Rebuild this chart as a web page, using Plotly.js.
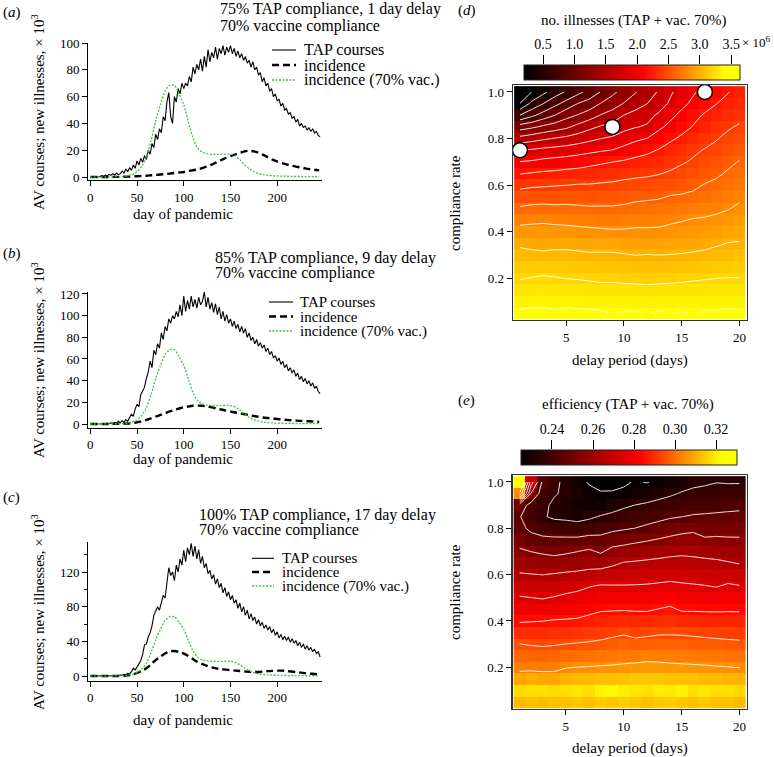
<!DOCTYPE html>
<html><head><meta charset="utf-8">
<script src="https://cdn.plot.ly/plotly-3.0.1.min.js"></script>
<style>html,body{margin:0;padding:0;background:#fff}#chart{width:774px;height:757px}</style>
</head><body><div id="chart"></div>
<script>
// ---------------- DATA ----------------
const tapStep = 2;                 // TAP courses sampled every 2 days from day 0
const incStep = 5;                 // incidence curves sampled every 5 days from day 0
const tapA = [0,0,0.3,0,0.5,0.2, 1,0.5,1.5,0.8,2,1.2, 2.5,1.5,3,1.8,2.5,4.5, 3,6,4,7,5,9,
  6.5,12,9,14,11,16, 13,20,17,25,22,32, 28,36,33,45,42,56, 63,45,40,60,56,66, 62,70,66,70,68,75,
  71,82,77,84,80,88, 79,90,82,95,86,93, 89,97,88,96,92,98, 91,97,93,98,92,96, 90,94,89,92,87,90,
  85,87,82,86,80,82, 76,78,71,74,68,70, 64,66,60,62,57,58, 53,55,50,51,47,48, 44,45,41,43,38,40,
  37,38,35,37,34,36, 33,34,31,30];
const tapB = [0,0,0,0.3,0,0.2, 0,0.5,0.2,0.8,0.3,1, 0.5,1.5,0.8,2.5,1,3, 1.5,4,2.5,6,9,7,
  14,18,16,27,30,34, 42,48,58,52,68,64, 74,70,84,78,90,86, 97,93,100,97,104,99, 110,100,118,104,114,106,
  118,108,115,107,117,110, 113,122,108,117,106,112, 103,111,101,108,97,104, 95,101,93,97,90,95,
  88,92,85,90,84,88, 80,84,77,80,74,78, 72,75,70,73,67,70, 64,67,61,63,58,61, 55,58,52,55,49,52,
  47,50,44,47,41,44, 39,42,37,40,35,38, 33,35,30,28];
const tapC = [0,0,0,0,0.3,0, 0.2,0,0.4,0.1,0.5,0.2, 0.6,0.3,0.8,0.5,1.2,0.8, 2,1.5,3,2.5,5,9,
  7,10,14,18,25,36, 37,45,50,58,70,75, 80,76,84,93,90,110, 125,116,120,110,128,120, 135,128,145,132,148,140,
  153,138,150,135,146,130, 138,125,130,118,122,112, 117,106,112,102,107,96, 102,92,97,88,93,84,
  88,78,84,74,80,70, 76,66,72,64,68,60, 65,58,62,55,59,53, 57,50,54,47,51,44, 48,42,46,41,45,39,
  43,38,41,35,39,33, 37,31,35,30,33,28, 31,26,28,22];
const incA = [0,0,0,0,0,0.1,0.1,0.2,0.3,0.4, 0.6,0.8,1.0,1.3,1.6,1.9,2.2,2.6,3.0,3.4,
  3.8,4.4,5.1,5.8,6.7,7.9,9.3,11,12.6,14.2, 15.6,16.8,18,19.1,19.6,19.2,18.2,16.6,14.8,13,
  11.6,10.4,9.4,8.5,7.8,7.2,6.5,5.9,5.4,5.0];
const incB = [0,0,0,0,0,0.1,0.2,0.3,0.5,0.9, 1.5,2.5,3.8,5.3,6.8,8.4,10,11.6,13,14.3,
  15.4,16.2,16.8,17,16.8,16.2,15.3,14.4,13.4,12.4, 11.5,10.6,9.8,9.0,8.2,7.4,6.7,6.0,5.5,5.0,
  4.6,4.2,3.8,3.5,3.2,2.9,2.7,2.5,2.2,2.0];
const incC = [0,0,0,0,0,0,0.1,0.3,0.7,1.7, 3.5,5.8,9,13.5,18.5,22.5,26,28.3,28.8,27.8,
  25.8,23,19.5,16.2,13.8,11.8,10,8.8,8,7.4, 6.9,6.3,5.8,5.3,4.9,4.6,4.7,5.2,5.7,6.0,
  6.2,6.2,5.8,5.2,4.6,3.9,3.3,2.8,2.4,2.1];
const incVac = [0,0,0,0,0.1,0.1,0.2,0.4,0.9,2, 4,8,15,27,42,54,64,68.5,68.5,62,
  54,41,29,21.5,18.5,17.5,17,16.9,17,17.1, 17,15.8,13,9.3,6.2,4,2.6,1.8,1.3,1,
  0.8,0.7,0.6,0.5,0.45,0.4,0.35,0.3,0.3,0.3];

const delays = [1,2,3,4,5,6,7,8,9,10,11,12,13,14,15,16,17,18,19,20];
const compliance = [0.05,0.10,0.15,0.20,0.25,0.30,0.35,0.40,0.45,0.50,0.55,0.60,0.65,0.70,0.75,0.80,0.85,0.90,0.95,1.00];

// no. illnesses (x10^6), rows = compliance 0.05 .. 1.00, cols = delay 1..20
const illnesses = [
 [3.43,3.44,3.44,3.43,3.44,3.43,3.43,3.42,3.39,3.41,3.41,3.39,3.42,3.39,3.41,3.39,3.42,3.42,3.43,3.42],
 [3.34,3.35,3.35,3.35,3.35,3.35,3.34,3.34,3.34,3.34,3.33,3.33,3.34,3.33,3.34,3.34,3.34,3.34,3.34,3.34],
 [3.26,3.27,3.28,3.27,3.27,3.27,3.26,3.25,3.25,3.25,3.24,3.24,3.24,3.25,3.25,3.26,3.26,3.27,3.27,3.27],
 [3.19,3.204,3.22,3.21,3.196,3.19,3.18,3.17,3.17,3.16,3.16,3.15,3.16,3.16,3.17,3.18,3.19,3.198,3.203,3.201],
 [3.12,3.12,3.13,3.12,3.12,3.11,3.11,3.10,3.10,3.09,3.08,3.08,3.08,3.08,3.09,3.10,3.11,3.12,3.13,3.14],
 [3.05,3.04,3.03,3.04,3.04,3.03,3.02,3.02,3.02,3.01,2.996,3.004,2.998,3.002,3.01,3.02,3.03,3.05,3.06,3.08],
 [2.97,2.95,2.94,2.95,2.95,2.94,2.93,2.93,2.93,2.92,2.91,2.91,2.92,2.93,2.93,2.94,2.96,2.98,3.003,3.01],
 [2.86,2.87,2.87,2.86,2.86,2.85,2.84,2.83,2.82,2.82,2.83,2.83,2.83,2.85,2.86,2.87,2.89,2.91,2.93,2.95],
 [2.75,2.76,2.77,2.76,2.75,2.74,2.73,2.72,2.72,2.73,2.74,2.74,2.75,2.77,2.79,2.81,2.82,2.84,2.86,2.89],
 [2.62,2.64,2.65,2.64,2.64,2.63,2.62,2.62,2.62,2.63,2.65,2.66,2.67,2.69,2.71,2.73,2.74,2.76,2.79,2.83],
 [2.49,2.51,2.51,2.51,2.52,2.52,2.51,2.52,2.52,2.54,2.56,2.57,2.58,2.61,2.62,2.64,2.67,2.70,2.73,2.77],
 [2.35,2.37,2.38,2.39,2.397,2.41,2.41,2.42,2.43,2.45,2.46,2.47,2.49,2.51,2.53,2.56,2.61,2.64,2.68,2.71],
 [2.19,2.21,2.23,2.24,2.26,2.27,2.29,2.31,2.32,2.34,2.36,2.37,2.39,2.42,2.46,2.50,2.53,2.57,2.62,2.66],
 [2.003,2.02,2.05,2.07,2.09,2.11,2.14,2.17,2.197,2.22,2.25,2.27,2.30,2.34,2.38,2.42,2.47,2.51,2.56,2.61],
 [1.803,1.82,1.85,1.87,1.89,1.92,1.95,1.98,2.003,2.06,2.12,2.16,2.21,2.27,2.32,2.37,2.41,2.44,2.50,2.54],
 [1.47,1.52,1.57,1.61,1.65,1.70,1.75,1.797,1.83,1.90,1.96,2.003,2.09,2.17,2.23,2.29,2.34,2.39,2.44,2.48],
 [1.10,1.16,1.24,1.30,1.36,1.46,1.55,1.62,1.67,1.74,1.79,1.82,1.96,2.05,2.14,2.21,2.28,2.33,2.38,2.42],
 [0.603,0.75,0.88,0.997,1.13,1.21,1.30,1.41,1.48,1.603,1.68,1.74,1.83,1.95,2.05,2.15,2.22,2.27,2.31,2.35],
 [0.203,0.45,0.597,0.74,0.87,1.003,1.08,1.21,1.31,1.41,1.50,1.597,1.70,1.83,1.95,2.04,2.13,2.197,2.26,2.30],
 [0.05,0.197,0.35,0.50,0.62,0.74,0.87,1.01,1.15,1.28,1.39,1.50,1.62,1.77,1.89,1.98,2.06,2.12,2.19,2.26]
];
// efficiency, rows = compliance 0.05 .. 1.00, cols = delay 1..20
const efficiency = [
 [.312,.313,.312,.313,.313,.314,.313,.315,.314,.315,.314,.313,.314,.315,.314,.313,.314,.313,.313,.312],
 [.317,.318,.318,.317,.318,.319,.318,.321,.322,.320,.319,.318,.320,.319,.321,.318,.319,.318,.318,.317],
 [.309,.310,.309,.309,.311,.312,.312,.313,.313,.313,.314,.314,.314,.313,.313,.313,.312,.312,.311,.311],
 [.3029,.3027,.3026,.3026,.3045,.3051,.3053,.3056,.3058,.3062,.3068,.3072,.3070,.3065,.3062,.3060,.3058,.3054,.3052,.3048],
 [.2989,.2987,.2984,.2986,.2998,.3002,.3006,.3011,.3017,.3022,.3021,.3027,.3026,.3024,.3022,.3019,.3017,.3013,.3009,.3006],
 [.2951,.2945,.2941,.2945,.2951,.2955,.2959,.2965,.2975,.2983,.2974,.2980,.2984,.2983,.2982,.2978,.2975,.2971,.2967,.2964],
 [.2896,.2896,.2895,.2900,.2904,.2907,.2915,.2923,.2932,.2941,.2929,.2933,.2941,.2942,.2940,.2936,.2932,.2928,.2925,.2923],
 [.2843,.2846,.2849,.2855,.2857,.2860,.2872,.2883,.2888,.2893,.2886,.2887,.2896,.2902,.2890,.2888,.2886,.2885,.2883,.2883],
 [.2800,.2798,.2797,.2805,.2812,.2817,.2830,.2842,.2844,.2845,.2843,.2842,.2852,.2862,.2842,.2842,.2841,.2840,.2842,.2841],
 [.2757,.2751,.2745,.2755,.2768,.2777,.2789,.2801,.2799,.2801,.2799,.2801,.2808,.2817,.2802,.2799,.2797,.2793,.2802,.2798],
 [.2708,.2701,.2698,.2705,.2717,.2729,.2746,.2758,.2756,.2755,.2756,.2758,.2763,.2769,.2762,.2758,.2753,.2746,.2762,.2754],
 [.2657,.2653,.2649,.2656,.2663,.2668,.2677,.2688,.2695,.2705,.2708,.2713,.2718,.2723,.2721,.2716,.2711,.2705,.2711,.2701],
 [.2610,.2602,.2594,.2591,.2601,.2609,.2618,.2612,.2633,.2655,.2660,.2666,.2671,.2677,.2679,.2674,.2670,.2665,.2656,.2646],
 [.2564,.2549,.2537,.2526,.2536,.2549,.2566,.2538,.2578,.2590,.2599,.2608,.2617,.2627,.2633,.2630,.2621,.2617,.2608,.2603],
 [.2515,.2476,.2470,.2466,.2467,.2468,.2480,.2475,.2505,.2517,.2531,.2543,.2556,.2570,.2581,.2584,.2562,.2565,.2561,.2560],
 [.2470,.2435,.2409,.2402,.2396,.2390,.2402,.2415,.2427,.2440,.2451,.2468,.2486,.2506,.2521,.2531,.2511,.2515,.2515,.2516],
 [.2455,.2410,.2360,.2335,.2330,.2320,.2335,.2356,.2370,.2387,.2400,.2412,.2425,.2440,.2449,.2459,.2462,.2466,.2470,.2473],
 [.2500,.2420,.2375,.2330,.2315,.2290,.2285,.2295,.2315,.2335,.2351,.2362,.2376,.2391,.2403,.2410,.2415,.2419,.2424,.2428],
 [.3050,.2550,.2400,.2360,.2330,.2310,.2280,.2258,.2262,.2275,.2290,.2305,.2321,.2337,.2357,.2364,.2370,.2374,.2378,.2381],
 [.3300,.2700,.2430,.2380,.2320,.2290,.2240,.2220,.2210,.2230,.2260,.2245,.2270,.2290,.2310,.2335,.2340,.2348,.2345,.2345]
];
const chosenDelay = [1, 9, 17];
const chosenCompliance = [0.75, 0.85, 1.0];

const illTicks = [0.5,1.0,1.5,2.0,2.5,3.0,3.5];
const effTicks = [0.24,0.26,0.28,0.30,0.32];
const legendLabels = ['TAP courses','incidence','incidence (70% vac.)'];
const panelTitles = [
  ['75% TAP compliance, 1 day delay', '70% vaccine compliance'],
  ['85% TAP compliance, 9 day delay', '70% vaccine compliance'],
  ['100% TAP compliance, 17 day delay', '70% vaccine compliance']];

// ---------------- LAYOUT HELPERS ----------------
const W = 774, H = 757;
const px = v => v / W, py = v => 1 - v / H;
const SERIF = 'Liberation Serif, Times New Roman, serif';
const tickFont = {family: SERIF, size: 13, color: '#000'};
const daysOf = (arr, step) => arr.map((_, i) => i * step);
const green = '#3ec43e';

const traces = [];
function tsPanel(xa, ya, tap, inc) {
  traces.push({type:'scatter', mode:'lines', x: daysOf(tap, tapStep), y: tap, xaxis: xa, yaxis: ya,
    line:{color:'#000', width:1.1}, showlegend:false, hoverinfo:'skip'});
  traces.push({type:'scatter', mode:'lines', x: daysOf(inc, incStep), y: inc, xaxis: xa, yaxis: ya,
    line:{color:'#000', width:2.4, dash:'7px,4px', shape:'spline', smoothing:0.8}, showlegend:false, hoverinfo:'skip'});
  traces.push({type:'scatter', mode:'lines', x: daysOf(incVac, incStep), y: incVac, xaxis: xa, yaxis: ya,
    line:{color:green, width:1.3, dash:'2px,1.5px', shape:'spline', smoothing:0.8}, showlegend:false, hoverinfo:'skip'});
}
tsPanel('x','y', tapA, incA);
tsPanel('x2','y2', tapB, incB);
tsPanel('x3','y3', tapC, incC);

const hotScale = [[0,'#000000'],[0.55,'#ff0000'],[0.93,'#ffff00'],[1,'#ffff00']];
function heatPanel(xa, ya, z, zmin, zmax, cbX0, cbX1, cbTop, cstart, cend, csize) {
  traces.push({type:'heatmap', x: delays, y: compliance, z: z, xaxis: xa, yaxis: ya,
    colorscale: hotScale, zmin: zmin, zmax: zmax, zsmooth:false, hoverinfo:'skip',
    colorbar:{orientation:'h', x: px((cbX0+cbX1)/2), xanchor:'center', y: py(cbTop), yanchor:'top',
      len:(cbX1-cbX0)/W, lenmode:'fraction', thickness:15, thicknessmode:'pixels', xpad:0, ypad:0,
      outlinewidth:1, outlinecolor:'#222', showticklabels:false, ticks:''}});
  traces.push({type:'contour', x: delays, y: compliance, z: z, xaxis: xa, yaxis: ya,
    autocontour:false, contours:{coloring:'none', start:cstart, end:cend, size:csize, showlabels:false},
    line:{color:'rgba(255,255,255,0.92)', width:1, smoothing:0}, showscale:false, hoverinfo:'skip'});
}
heatPanel('x4','y4', illnesses, 0.196, 3.64, 524, 740, 65, 0.2, 3.4, 0.2);
heatPanel('x5','y5', efficiency, 0.2249, 0.3302, 521, 737, 450, 0.225, 0.305, 0.01);
traces.push({type:'scatter', mode:'markers', x: chosenDelay, y: chosenCompliance, xaxis:'x4', yaxis:'y4',
  marker:{size:15, color:'#fff', line:{color:'#000', width:1.5}}, showlegend:false, hoverinfo:'skip'});
traces.push({type:'scatter', x:[], y:[], xaxis:'x6', yaxis:'y6', showlegend:false, hoverinfo:'skip'});
traces.push({type:'scatter', x:[], y:[], xaxis:'x7', yaxis:'y7', showlegend:false, hoverinfo:'skip'});

const baseAx = {showgrid:false, zeroline:false, showline:true, linecolor:'#000', linewidth:1,
  ticks:'outside', ticklen:5, tickwidth:1, tickcolor:'#000', tickfont:tickFont, fixedrange:true};
const tsX = a => Object.assign({}, baseAx, {domain:[px(88), px(322)], range:[-2.5, 248], anchor:a,
  tickvals:[0,50,100,150,200]});
const hmAx = (o) => Object.assign({}, baseAx, {mirror:true, linecolor:'#333', linewidth:1.3}, o);
const cbTickFont = {family: SERIF, size: 14, color: '#000'};

const layout = {
  width: W, height: H, margin:{l:0, r:0, t:0, b:0}, paper_bgcolor:'#fff', plot_bgcolor:'rgba(0,0,0,0)',
  showlegend:false, font:{family:SERIF, color:'#000'}, hovermode:false,
  xaxis: tsX('y'),
  yaxis: Object.assign({}, baseAx, {domain:[py(180), py(43)], range:[-2.2, 100], anchor:'x', tickvals:[0,20,40,60,80,100]}),
  xaxis2: tsX('y2'),
  yaxis2: Object.assign({}, baseAx, {domain:[py(427.8), py(291.8)], range:[-3.5, 122], anchor:'x2', tickvals:[0,20,40,60,80,100,120]}),
  xaxis3: tsX('y3'),
  yaxis3: Object.assign({}, baseAx, {domain:[py(680.8), py(541.7)], range:[-5.5, 155], anchor:'x3',
    tickmode:'linear', tick0:0, dtick:40, minor:{tickmode:'linear', tick0:0, dtick:20, ticks:'outside', ticklen:3, tickcolor:'#000', showgrid:false}}),
  xaxis4: hmAx({domain:[px(513), px(746.5)], range:[0.4, 20.6], anchor:'y4', tickvals:[5,10,15,20]}),
  yaxis4: hmAx({domain:[py(320), py(85)], range:[0.02, 1.03], anchor:'x4', tickvals:[0.2,0.4,0.6,0.8,1.0], ticktext:['0.2','0.4','0.6','0.8','1.0']}),
  xaxis5: hmAx({domain:[px(512.5), px(746.5)], range:[0.4, 20.6], anchor:'y5', tickvals:[5,10,15,20]}),
  yaxis5: hmAx({domain:[py(709), py(475)], range:[0.02, 1.03], anchor:'x5', tickvals:[0.2,0.4,0.6,0.8,1.0], ticktext:['0.2','0.4','0.6','0.8','1.0']}),
  xaxis6: Object.assign({}, baseAx, {domain:[px(524), px(740)], range:[0.196, 3.64], anchor:'y6', side:'top', showline:false, ticklen:9,
    tickfont: cbTickFont, tickvals: illTicks, ticktext: illTicks.map(v => v.toFixed(1))}),
  yaxis6: {domain:[py(80), py(65)], anchor:'x6', visible:false, range:[0,1], fixedrange:true},
  xaxis7: Object.assign({}, baseAx, {domain:[px(521), px(737)], range:[0.2249, 0.3302], anchor:'y7', side:'top', showline:false, ticklen:9,
    tickfont: cbTickFont, tickvals: effTicks, ticktext: effTicks.map(v => v.toFixed(2))}),
  yaxis7: {domain:[py(465), py(450)], anchor:'x7', visible:false, range:[0,1], fixedrange:true},
  annotations: [], shapes: []
};

const ann = (text, x, y, o) => layout.annotations.push(Object.assign({text, x: px(x), y: py(y), xref:'paper', yref:'paper',
  showarrow:false, font:{family:SERIF, size:15, color:'#000'}, xanchor:'center', yanchor:'middle'}, o || {}));
const f16 = {family:SERIF, size:16, color:'#000'};
const f15 = {family:SERIF, size:15, color:'#000'};

// panel letters
ann('(<i>a</i>)', 1, 12, {xanchor:'left'});
ann('(<i>b</i>)', 1, 253, {xanchor:'left'});
ann('(<i>c</i>)', 1, 497, {xanchor:'left'});
ann('(<i>d</i>)', 456, 10, {xanchor:'left'});
ann('(<i>e</i>)', 456, 400, {xanchor:'left'});
// panel titles (two lines each)
[[218, 8.5, 25.5], [213, 258, 273], [197, 515, 529.5]].forEach((p, i) => {
  ann(panelTitles[i][0], p[0], p[1], {xanchor:'left', font:f16});
  ann(panelTitles[i][1], p[0], p[2], {xanchor:'left', font:f16});
});
// axis titles time series
const yTitle = 'AV courses; new illnesses, × 10<sup>3</sup>';
ann(yTitle, 38, 112, {textangle:-90});
ann(yTitle, 38, 360, {textangle:-90});
ann(yTitle, 38, 612, {textangle:-90});
ann('day of pandemic', 183, 214);
ann('day of pandemic', 183, 459);
ann('day of pandemic', 183, 720);
// heatmap titles
ann('compliance rate', 455, 203, {textangle:-90});
ann('compliance rate', 455, 592, {textangle:-90});
ann('delay period (days)', 630, 360);
ann('delay period (days)', 630, 748);
ann('no. illnesses (TAP + vac. 70%)', 633, 21);
ann('efficiency (TAP + vac. 70%)', 628, 405);
ann('× 10<sup>6</sup>', 740, 42, {xanchor:'left', font:{family:SERIF, size:13, color:'#000'}});

// manual legends
function legend(x0, x1, tx, ys, font) {
  const styles = [{color:'#000', width:1.1, dash:'solid'}, {color:'#000', width:2.4, dash:'7px,4px'}, {color:green, width:1.3, dash:'2px,1.5px'}];
  ys.forEach((y, i) => {
    layout.shapes.push({type:'line', xref:'paper', yref:'paper', x0:px(x0), x1:px(x1), y0:py(y), y1:py(y), line:styles[i]});
    ann(legendLabels[i], tx, y, {xanchor:'left', font:font});
  });
}
legend(272, 296, 302, [50, 65, 80], f16);
legend(269, 293, 298, [302, 316.5, 331], f15);
legend(252, 274, 280, [558.3, 572, 586], f15);

Plotly.newPlot('chart', traces, layout, {staticPlot:true, displayModeBar:false});
</script></body></html>
